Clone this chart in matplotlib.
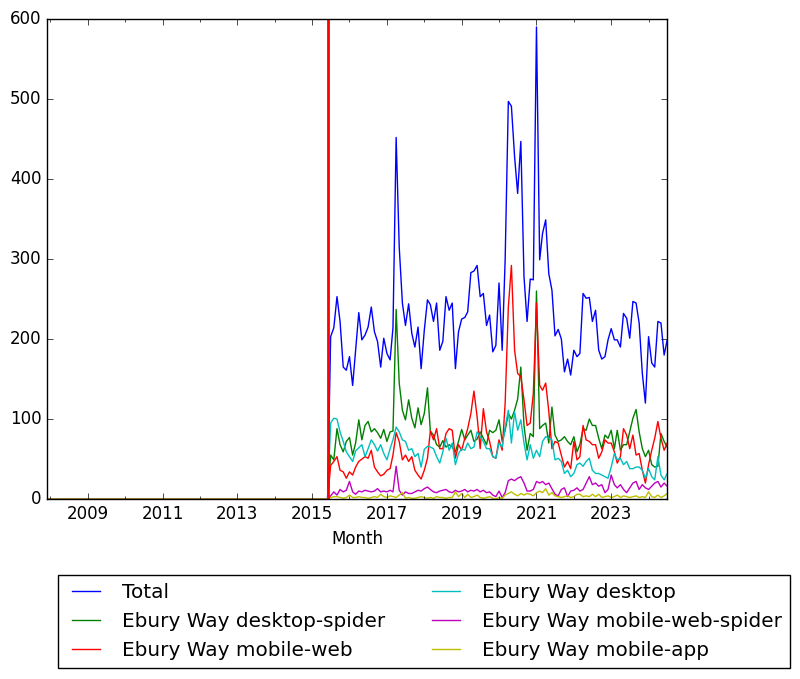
import matplotlib
matplotlib.use("Agg")
import matplotlib.pyplot as plt
import matplotlib.dates as mdates
import pandas as pd
import datetime

# monthly views, July 2015 .. July 2024 (earlier months have no data -> 0)
total = [203, 214, 253, 222, 165, 161, 178, 142, 186, 233,
         199, 205, 215, 240, 209, 197, 165, 201, 182, 174,
         214, 452, 315, 245, 217, 244, 207, 190, 215, 163,
         211, 249, 243, 222, 245, 186, 197, 253, 236, 245,
         163, 209, 225, 227, 234, 283, 285, 292, 253, 257,
         217, 230, 184, 192, 270, 186, 300, 497, 491, 428,
         382, 447, 278, 222, 275, 274, 590, 299, 332, 349,
         282, 261, 204, 212, 200, 159, 175, 155, 186, 178,
         182, 257, 251, 252, 222, 236, 186, 175, 178, 199,
         213, 199, 199, 190, 232, 226, 201, 247, 245, 220,
         157, 120, 203, 170, 165, 222, 220, 180, 199]
desktop_spider = [55, 49, 88, 68, 59, 72, 77, 55, 70, 99,
                  74, 92, 97, 84, 88, 83, 76, 87, 72, 84,
                  85, 237, 145, 111, 99, 124, 101, 89, 114, 93,
                  107, 139, 85, 80, 68, 65, 73, 65, 68, 65,
                  59, 72, 87, 74, 80, 86, 72, 75, 84, 76,
                  68, 86, 83, 86, 99, 72, 86, 107, 100, 111,
                  125, 165, 92, 61, 82, 78, 260, 88, 92, 95,
                  70, 115, 80, 72, 74, 78, 72, 68, 78, 59,
                  68, 88, 86, 100, 92, 92, 76, 63, 80, 76,
                  86, 63, 86, 61, 68, 68, 84, 101, 112, 84,
                  63, 53, 61, 43, 40, 41, 82, 72, 65]
mobile_web = [42, 47, 53, 36, 34, 26, 34, 30, 40, 47,
              50, 53, 51, 61, 40, 34, 29, 31, 36, 38,
              55, 83, 72, 49, 55, 47, 53, 36, 30, 25,
              36, 51, 85, 74, 88, 63, 63, 82, 88, 86,
              51, 68, 61, 76, 88, 107, 135, 103, 63, 113,
              84, 72, 53, 51, 74, 61, 120, 240, 292, 186,
              157, 153, 124, 92, 95, 132, 245, 142, 136, 145,
              110, 63, 72, 70, 55, 40, 47, 38, 72, 49,
              53, 92, 74, 72, 68, 68, 51, 59, 74, 70,
              70, 59, 45, 53, 88, 80, 63, 80, 55, 57,
              36, 20, 43, 61, 76, 97, 76, 61, 70]
desktop = [95, 101, 100, 84, 72, 59, 53, 47, 60, 64,
           68, 53, 63, 74, 68, 60, 68, 57, 49, 63,
           74, 90, 84, 74, 72, 61, 63, 53, 57, 40,
           62, 66, 65, 63, 53, 45, 59, 76, 61, 70,
           43, 57, 63, 61, 70, 63, 65, 84, 78, 72,
           63, 63, 53, 51, 70, 65, 90, 111, 70, 109,
           86, 99, 70, 49, 68, 51, 61, 53, 72, 78,
           76, 74, 49, 51, 47, 32, 36, 28, 32, 43,
           45, 41, 47, 51, 36, 32, 32, 30, 28, 26,
           40, 57, 49, 51, 43, 47, 38, 38, 40, 40,
           36, 26, 38, 28, 24, 53, 30, 24, 32]
mobile_web_spider = [4, 9, 5, 12, 9, 11, 22, 9, 6, 10,
                     9, 11, 10, 9, 10, 13, 9, 10, 9, 11,
                     9, 41, 11, 5, 9, 7, 7, 9, 11, 10,
                     13, 15, 12, 9, 8, 10, 11, 12, 9, 8,
                     11, 9, 10, 12, 9, 11, 10, 12, 9, 11,
                     8, 9, 5, 3, 10, 2, 8, 23, 25, 23,
                     26, 28, 20, 10, 10, 12, 22, 20, 22, 18,
                     20, 13, 6, 4, 12, 14, 3, 10, 11, 14,
                     10, 12, 20, 28, 18, 20, 16, 18, 8, 12,
                     30, 18, 14, 18, 12, 8, 14, 20, 22, 12,
                     18, 14, 12, 16, 20, 22, 15, 20, 16]
mobile_app = [2, 3, 3, 2, 1, 2, 5, 2, 2, 3,
              2, 2, 1, 2, 3, 2, 6, 3, 2, 4,
              3, 2, 5, 8, 1, 2, 1, 1, 2, 3,
              2, 1, 2, 1, 3, 2, 2, 1, 2, 2,
              9, 3, 7, 2, 6, 2, 3, 5, 2, 1,
              2, 3, 1, 0, 2, 1, 5, 7, 9, 6,
              4, 7, 5, 7, 6, 4, 8, 10, 8, 13,
              5, 8, 4, 3, 2, 3, 4, 2, 3, 6,
              6, 3, 4, 3, 6, 3, 6, 2, 3, 4,
              2, 3, 5, 2, 4, 3, 2, 3, 4, 2,
              3, 2, 9, 3, 2, 5, 2, 4, 7]

labels = ["Total", "Ebury Way desktop-spider", "Ebury Way mobile-web",
          "Ebury Way desktop", "Ebury Way mobile-web-spider", "Ebury Way mobile-app"]
tick_years = [2009, 2011, 2013, 2015, 2017, 2019, 2021, 2023]

months = pd.date_range("2007-12-01", "2024-07-01", freq="MS")
n_empty = len(months) - len(total)

plt.style.use("classic")
fig = plt.figure(figsize=(8, 6.79), dpi=100, facecolor="white")
ax = fig.add_axes([0.059, 0.265, 0.775, 0.707])

series = [total, desktop_spider, mobile_web, desktop, mobile_web_spider, mobile_app]
for vals, lab in zip(series, labels):
    ax.plot(months, [0] * n_empty + vals, label=lab)

ax.axvline(datetime.datetime(2015, 6, 10), color="r", linewidth=2)

ax.set_xlim(months[0], months[-1])
ax.set_ylim(0, 600)
ax.set_xticks([datetime.datetime(y, 1, 1) for y in tick_years])
ax.xaxis.set_major_formatter(mdates.DateFormatter("%Y"))
ax.xaxis.set_minor_locator(mdates.YearLocator(1))
ax.set_xlabel("Month")

ax.legend(loc="upper center", bbox_to_anchor=(0.53, 0.168),
          bbox_transform=fig.transFigure, ncol=2)

plt.savefig("out.png", dpi=100, facecolor="white")
